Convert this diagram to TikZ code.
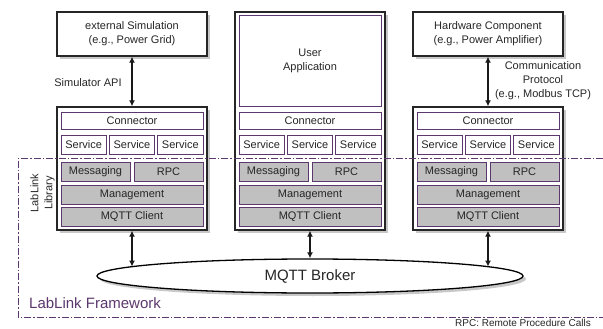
\documentclass[tikz,border=0pt]{standalone}
\usepackage{fontspec}
\setmainfont{Liberation Sans}
\usetikzlibrary{arrows.meta,shadows,shapes.geometric}
\definecolor{lpurple}{RGB}{92,56,108}
\definecolor{corefill}{RGB}{192,192,192}
\definecolor{shadegray}{RGB}{200,200,200}

\begin{document}
\begin{tikzpicture}[x=1pt,y=-1pt,
  txt/.style={font=\fontsize{11}{14}\selectfont, text=black!85},
  shade/.style={drop shadow={shadow xshift=3pt,shadow yshift=-3pt,opacity=1,fill=shadegray}},
  frame/.style={draw=black!85, line width=1.4pt, fill=white, inner sep=0pt, shade},
  part/.style={txt, draw=lpurple, line width=0.9pt, fill=white, inner sep=0pt},
  core/.style={part, fill=corefill},
  link/.style={{Latex[length=6pt,width=6pt]}-{Latex[length=6pt,width=6pt]}, line width=1.8pt, black!90},
  area/.style={lpurple, line width=1pt, dash pattern=on 7pt off 2pt on 1.5pt off 2pt},
]
\useasboundingbox (0,0) rectangle (603,329);

% outer frames of the three components
\node[frame, minimum width=150, minimum height=123] (stackL) at (132,168.5) {};
\node[frame, minimum width=150, minimum height=218] (stackM) at (310,121) {};
\node[frame, minimum width=150, minimum height=123] (stackR) at (488,168.5) {};

% external systems
\node[frame, txt, align=center, minimum width=150, minimum height=44] (ext) at (132,34) {external Simulation\\(e.g., Power Grid)};
\node[frame, txt, align=center, minimum width=150, minimum height=44] (hw) at (488,34) {Hardware Component\\(e.g., Power Amplifier)};

% user application inside the middle component
\node[part, align=center, minimum width=142, minimum height=91] (app) at (310,60.5) {User\\Application};

% common layers of each component
\foreach \c/\n in {132/L,310/M,488/R}{
  \node[part, minimum width=142, minimum height=17] (conn\n) at (\c,120.5) {Connector};
  \node[part, minimum width=45.3, minimum height=19] (srvA\n) at (\c-48.33,144.5) {Service};
  \node[part, minimum width=45.3, minimum height=19] (srvB\n) at (\c,144.5) {Service};
  \node[part, minimum width=45.3, minimum height=19] (srvC\n) at (\c+48.33,144.5) {Service};
  \node[core, minimum width=69, minimum height=19] (msg\n) at (\c-36.5,171.5) {Messaging};
  \node[core, minimum width=69, minimum height=19] (rpc\n) at (\c+36.5,171.5) {RPC};
  \node[core, minimum width=142, minimum height=19] (mgmt\n) at (\c,194.5) {Management};
  \node[core, minimum width=142, minimum height=19] (mqtt\n) at (\c,217) {MQTT Client};
}

% broker
\node[ellipse, draw=black, line width=1.3pt, fill=white, inner sep=0pt, shade,
      minimum width=426, minimum height=34, font=\fontsize{15}{18}\selectfont, text=black!85]
      (broker) at (310,276) {MQTT Broker};

% connections
\draw[link] (ext.south) -- (stackL.north);
\draw[link] (hw.south) -- (stackR.north);
\draw[link] (stackL.south) -- (stackL.south |- broker.177);
\draw[link] (stackM.south) -- (broker.north);
\draw[link] (stackR.south) -- (stackR.south |- broker.3);

% labels
\node[txt, align=center] (api) at (88,83) {Simulator API};
\node[txt, align=center] (proto) at (543,81) {Communication\\Protocol\\(e.g., Modbus TCP)};
\node[txt, align=center, rotate=90] (lib) at (42.5,193) {LabLink\\Library};
\node[font=\fontsize{15}{18}\selectfont, text=lpurple, anchor=west, inner sep=0pt] (fw) at (29,303) {LabLink Framework};
\node[font=\fontsize{10}{12}\selectfont, text=black!85, anchor=east, inner sep=0pt] (note) at (591,322.5) {RPC: Remote Procedure Calls};

% framework boundary
\draw[area] (603,158) -- (18,158) -- (18,317) -- (603,317);
\end{tikzpicture}
\end{document}
